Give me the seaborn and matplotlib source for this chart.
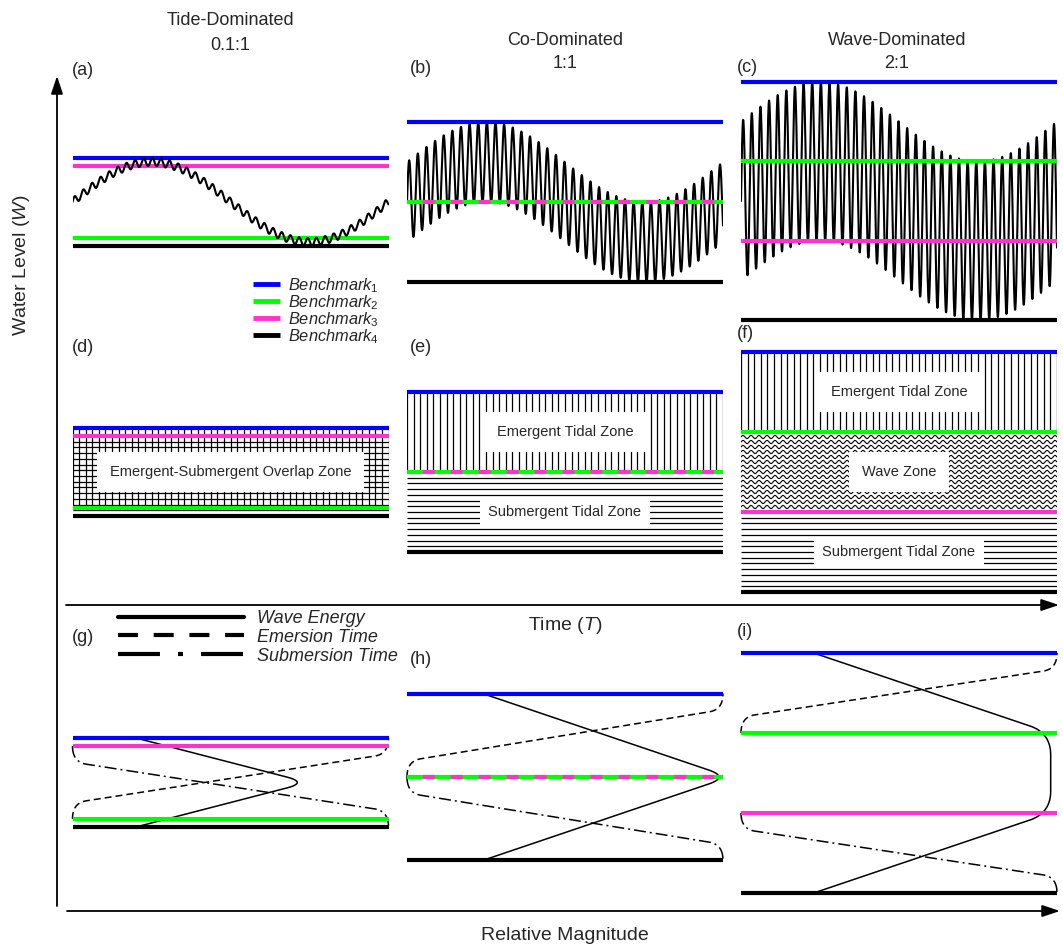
import numpy as np
import matplotlib
matplotlib.use("Agg")
import matplotlib.pyplot as plt
from matplotlib.lines import Line2D
import seaborn as sns

# ---------------- data ----------------
regimes = ["Tide-Dominated", "Co-Dominated", "Wave-Dominated"]
ratio_labels = ["0.1:1", "1:1", "2:1"]
tide_amp = [1.0, 1.0, 1.0]          # tidal amplitude
wave_amp = [0.1, 1.0, 2.0]          # wave amplitude (wave : tide ratio)
wave_cycles = 36.6                  # wave periods per tidal cycle

bench_labels = [r"$Benchmark_1$", r"$Benchmark_2$", r"$Benchmark_3$", r"$Benchmark_4$"]
bench_colors = ["#0000FF", "#00FF00", "#FF33CC", "#000000"]

energy_edge = [0.20, 0.24, 0.23]    # relative wave energy at Benchmark 1 / 4
energy_peak = [0.745, 1.02, 0.98]   # relative wave energy at the central levels

curve_labels = ["Wave Energy", "Emersion Time", "Submersion Time"]
panel_letters = [["(a)", "(b)", "(c)"], ["(d)", "(e)", "(f)"], ["(g)", "(h)", "(i)"]]

zone_emergent = "Emergent Tidal Zone"
zone_submergent = "Submergent Tidal Zone"
zone_overlap = "Emergent-Submergent Overlap Zone"
zone_wave = "Wave Zone"


def benchmark_levels(T, Wv):
    return [T + Wv, Wv - T, T - Wv, -(T + Wv)]


# ---------------- layout (pixels) ----------------
W_PX, H_PX = 1063, 949
col_span = [(72.5, 388.5), (407.0, 723.0), (741.0, 1057.0)]
row_span = [(70, 332), (340, 600), (636, 905)]
row_center = [[202, 202, 201], [472, 472, 472], [782.5, 777, 773]]
row_scale = [[40, 40, 39.7], [40, 40, 40], [40.5, 41.7, 40]]
letter_pos = [[(72, 70), (410, 68), (737, 67)],
              [(72, 347), (410, 347), (737, 333)],
              [(72, 638), (410, 660), (737, 631)]]
title_x = [230, 565, 897]
title_y = [(20, 45), (40, 63), (40, 63)]

sns.set_theme(style="white")
plt.rcParams.update({
    "font.family": ["Liberation Sans", "DejaVu Sans"],
    "mathtext.fontset": "custom",
    "mathtext.rm": "Liberation Sans",
    "mathtext.it": "Liberation Sans:italic",
    "mathtext.bf": "Liberation Sans:bold",
    "lines.scale_dashes": False,
})

fig = plt.figure(figsize=(W_PX / 100, H_PX / 100), dpi=100)
fig.patch.set_facecolor("white")

# overlay in pixel units for the shared axes, titles and letters
ax0 = fig.add_axes([0, 0, 1, 1])
ax0.set_xlim(0, W_PX)
ax0.set_ylim(H_PX, 0)
ax0.set_axis_off()

arrow = dict(arrowstyle="-|>,head_length=0.9,head_width=0.3", lw=1.3,
             color="black", mutation_scale=12, shrinkA=0, shrinkB=0)
ax0.annotate("", xy=(57, 76), xytext=(57, 906), arrowprops=arrow)
ax0.annotate("", xy=(1059, 605), xytext=(66, 605), arrowprops=arrow)
ax0.annotate("", xy=(1060, 911), xytext=(67, 911), arrowprops=arrow)
ax0.text(22, 265, r"Water Level ($\mathit{W}$)", rotation=90, ha="center", va="center", fontsize=14)
ax0.text(565, 625, r"Time ($\mathit{T}$)", ha="center", va="center", fontsize=14)
ax0.text(565, 936, "Relative Magnitude", ha="center", va="center", fontsize=14)

for c in range(3):
    ax0.text(title_x[c], title_y[c][0], regimes[c], ha="center", va="center", fontsize=13)
    ax0.text(title_x[c], title_y[c][1], ratio_labels[c], ha="center", va="center", fontsize=13)
for r in range(3):
    for c in range(3):
        x, y = letter_pos[r][c]
        ax0.text(x, y, panel_letters[r][c], ha="left", va="center", fontsize=13)


def panel_axes(r, c):
    x0, x1 = col_span[c]
    y0, y1 = row_span[r]
    ax = fig.add_axes([x0 / W_PX, 1 - y1 / H_PX, (x1 - x0) / W_PX, (y1 - y0) / H_PX])
    ax.set_axis_off()
    return ax


def finish_limits(ax, r, c):
    y0, y1 = row_span[r]
    ctr, s = row_center[r][c], row_scale[r][c]
    ax.set_xlim(0, 1)
    ax.set_ylim(-(y1 - ctr) / s, (ctr - y0) / s)


PINK_DASH = (8.6, (8.6, 11.5))


def draw_benchmarks(ax, b):
    for k in (0, 1, 3):
        ax.axhline(b[k], color=bench_colors[k], lw=3, solid_capstyle="butt",
                   clip_on=False, zorder=5)
    if np.isclose(b[1], b[2]):
        ax.axhline(b[2], color=bench_colors[2], lw=3, linestyle=PINK_DASH,
                   clip_on=False, zorder=6)
    else:
        ax.axhline(b[2], color=bench_colors[2], lw=3, solid_capstyle="butt",
                   clip_on=False, zorder=5)


# ---------------- row 1: water level through time ----------------
t = np.linspace(0, 1, 6001)
for c in range(3):
    ax = panel_axes(0, c)
    T, Wv = tide_amp[c], wave_amp[c]
    level = T * np.sin(2 * np.pi * t) + Wv * np.sin(2 * np.pi * wave_cycles * t)
    sns.lineplot(x=t, y=level, ax=ax, color="black", lw=1.5, estimator=None,
                 sort=False, zorder=7 if Wv < T else 3)
    draw_benchmarks(ax, benchmark_levels(T, Wv))
    finish_limits(ax, 0, c)
    if c == 0:
        handles = [Line2D([], [], color=col, lw=3.5, solid_capstyle="butt") for col in bench_colors]
        fig.legend(handles, bench_labels, loc="upper left",
                   bbox_to_anchor=(253 / W_PX, 1 - 276 / H_PX), frameon=False,
                   borderpad=0, borderaxespad=0, handlelength=1.65,
                   handletextpad=0.5, labelspacing=-0.1, fontsize=11.8)

# ---------------- row 2: zones ----------------
zone_box = dict(facecolor="white", edgecolor="none", pad=9)
for c in range(3):
    ax = panel_axes(1, c)
    T, Wv = tide_amp[c], wave_amp[c]
    b1, b2, b3, b4 = benchmark_levels(T, Wv)
    ax.vlines(np.linspace(0, 1, 49), b2, b1, color="black", lw=0.9, zorder=1)
    ax.hlines(np.linspace(b4, b3, 15), 0, 1, color="black", lw=0.9, zorder=1)
    if b2 > b3:
        xw = np.linspace(0, 1, 2000)
        for rr in np.linspace(b3, b2, 17)[1:-1]:
            ax.plot(xw, rr + 0.04 * np.sin(2 * np.pi * 39.5 * xw), color="black",
                    lw=0.8, zorder=1)
        ax.text(0.5, (b2 + b3) / 2, zone_wave, ha="center", va="center",
                fontsize=10.5, bbox=zone_box, zorder=3)
    if b2 < b3:
        ax.text(0.5, (b2 + b3) / 2, zone_overlap, ha="center", va="center",
                fontsize=10.5, bbox=zone_box, zorder=3)
    else:
        ax.text(0.5, (b1 + b2) / 2, zone_emergent, ha="center", va="center",
                fontsize=10.5, bbox=zone_box, zorder=3)
        ax.text(0.5, (b3 + b4) / 2, zone_submergent, ha="center", va="center",
                fontsize=10.5, bbox=dict(facecolor="white", edgecolor="none", pad=6),
                zorder=3)
    draw_benchmarks(ax, [b1, b2, b3, b4])
    finish_limits(ax, 1, c)


# ---------------- row 3: relative magnitudes ----------------
def rounded_curve(pts, e_in, e_out, sx, sy):
    """Polyline with quadratic-Bezier rounded corners (lengths in pixels)."""
    P = np.array([(x * sx, y * sy) for x, y in pts], dtype=float)
    out = [P[0]]
    tt = np.linspace(0, 1, 60)[:, None]
    for i in range(1, len(P) - 1):
        C = P[i]
        u, v = P[i - 1] - C, P[i + 1] - C
        lu, lv = np.hypot(*u), np.hypot(*v)
        A = C + u / lu * min(e_in[i - 1], lu)
        B = C + v / lv * min(e_out[i - 1], lv)
        out.extend((1 - tt) ** 2 * A + 2 * (1 - tt) * tt * C + tt ** 2 * B)
    out.append(P[-1])
    out = np.array(out)
    return out[:, 0] / sx, out[:, 1] / sy


DASHED = (0, (5.0, 2.9))
DASHDOT = (0, (8.6, 2.9, 1.4, 2.9))
for c in range(3):
    ax = panel_axes(2, c)
    T, Wv = tide_amp[c], wave_amp[c]
    b1, b2, b3, b4 = benchmark_levels(T, Wv)
    sx = col_span[c][1] - col_span[c][0]
    sy = row_scale[2][c]
    h, e = 16 / sy, 14

    # wave energy
    top, bot = max(b2, 0.0), min(b3, 0.0)
    pts = [(energy_edge[c], b1), (energy_peak[c], top)]
    if top > bot:
        pts.append((energy_peak[c], bot))
    pts.append((energy_edge[c], b4))
    n_int = len(pts) - 2
    xe, ye = rounded_curve(pts, [22] * n_int, [22] * n_int, sx, sy)
    sns.lineplot(x=xe, y=ye, ax=ax, color="black", lw=1.1, estimator=None,
                 sort=False, zorder=4)

    # emersion time
    pts = [(0, b2), (0, b2 + h), (1, b1 - h), (1, b1)]
    xm, ym = rounded_curve(pts, [16, e], [e, 16], sx, sy)
    sns.lineplot(x=xm, y=ym, ax=ax, color="black", lw=1.1, estimator=None,
                 sort=False, zorder=4)
    ax.lines[-1].set_linestyle(DASHED)

    # submersion time
    pts = [(0, b3), (0, b3 - h), (1, b4 + h), (1, b4)]
    xs_, ys_ = rounded_curve(pts, [16, e], [e, 16], sx, sy)
    sns.lineplot(x=xs_, y=ys_, ax=ax, color="black", lw=1.1, estimator=None,
                 sort=False, zorder=4)
    ax.lines[-1].set_linestyle(DASHDOT)

    for ln in ax.lines:
        ln.set_clip_on(False)
    draw_benchmarks(ax, [b1, b2, b3, b4])
    finish_limits(ax, 2, c)

    if c == 0:
        handles = [Line2D([], [], color="black", lw=3),
                   Line2D([], [], color="black", lw=3, linestyle=(0, (14.4, 11.3))),
                   Line2D([], [], color="black", lw=3, linestyle=(0, (30.2, 13, 3.6, 13)))]
        fig.legend(handles, curve_labels, loc="upper left",
                   bbox_to_anchor=(118 / W_PX, 1 - 610 / H_PX), frameon=False,
                   borderpad=0, borderaxespad=0, handlelength=7.0,
                   handletextpad=0.72, labelspacing=0.1,
                   prop={"style": "italic", "size": 13})

fig.savefig("out.png", dpi=100, facecolor="white")
